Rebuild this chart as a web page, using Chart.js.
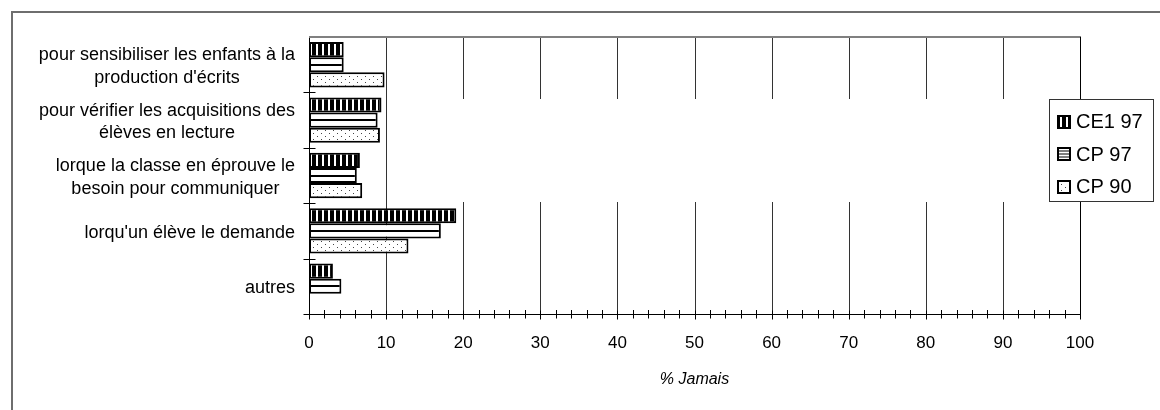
<!DOCTYPE html>
<html>
<head>
<meta charset="utf-8">
<script src="https://cdn.jsdelivr.net/npm/chart.js@4"></script>
<style>
  html, body { margin: 0; padding: 0; background: #fff; }
  canvas { display: block; }
</style>
</head>
<body>
<canvas id="chart" width="1160" height="410"></canvas>
<script>
// Categories (multi-line labels), top to bottom
const categories = [
  ['pour sensibiliser les enfants à la', "production d'écrits"],
  ['pour vérifier les acquisitions des', 'élèves en lecture'],
  ['lorque la classe en éprouve le', 'besoin pour communiquer'],
  ["lorqu'un élève le demande"],
  ['autres']
];

// Series names and values (% Jamais)
const seriesNames = ['CE1 97', 'CP 97', 'CP 90'];
const ce1_97 = [4.5, 9.4, 6.6, 19.1, 3.1];
const cp_97  = [4.5, 8.9, 6.2, 17.1, 4.2];
const cp_90  = [9.8, 9.2, 6.9, 12.9, null];

// Value axis ticks
const xTickValues = [0, 10, 20, 30, 40, 50, 60, 70, 80, 90, 100];
const xMinorStep = 2;
const xTitle = '% Jamais';

const FONT = '"Liberation Sans", Arial, Helvetica, sans-serif';
const canvas = document.getElementById('chart');
const ctx = canvas.getContext('2d');

// ---- fill patterns ----
function makeCanvas(w, h) {
  const c = document.createElement('canvas');
  c.width = w; c.height = h;
  return c;
}
function verticalStripes() {
  const c = makeCanvas(6, 6), g = c.getContext('2d');
  g.fillStyle = '#fff'; g.fillRect(0, 0, 6, 6);
  g.fillStyle = '#000'; g.fillRect(0, 0, 4, 6);
  return ctx.createPattern(c, 'repeat');
}
function horizontalStripes() {
  const c = makeCanvas(8, 7), g = c.getContext('2d');
  g.fillStyle = '#fff'; g.fillRect(0, 0, 8, 7);
  g.fillStyle = '#000'; g.fillRect(0, 2, 8, 2);
  return ctx.createPattern(c, 'repeat');
}
function dots() {
  const c = makeCanvas(8, 6), g = c.getContext('2d');
  g.fillStyle = '#fff'; g.fillRect(0, 0, 8, 6);
  g.fillStyle = '#444';
  g.fillRect(1, 1, 1, 1);
  g.fillRect(5, 4, 1, 1);
  return ctx.createPattern(c, 'repeat');
}
const vPattern = verticalStripes();
const dPattern = dots();

// horizontal stripes are aligned on each bar's centre
function hStripeFill(c) {
  const p = horizontalStripes();
  const ys = c.chart.scales && c.chart.scales.y;
  if (ys && c.dataIndex !== undefined && p.setTransform) {
    const yc = Math.round(ys.getPixelForValue(c.dataIndex));
    p.setTransform(new DOMMatrix().translate(0, yc - 3));
  }
  return p;
}

// ---- plugins ----
const frame = {
  id: 'frame',
  beforeDraw(chart) {
    const g = chart.ctx;
    g.save();
    g.strokeStyle = '#6e6e6e';
    g.lineWidth = 2;
    g.beginPath();
    g.moveTo(12, 410); g.lineTo(12, 12); g.lineTo(1160, 12);
    g.stroke();
    g.restore();
  }
};

const gridAndTicks = {
  id: 'gridAndTicks',
  beforeDatasetsDraw(chart) {
    const g = chart.ctx, xs = chart.scales.x;
    const {top, bottom, left, right} = chart.chartArea;
    const gapTop = 99, gapBottom = 202;
    g.save();
    // vertical gridlines
    g.strokeStyle = '#333';
    g.lineWidth = 1;
    xTickValues.forEach(v => {
      if (v === xTickValues[0] || v === xTickValues[xTickValues.length - 1]) return;
      const x = Math.round(xs.getPixelForValue(v)) + 0.5;
      g.beginPath();
      if (v === xTickValues[1]) {
        g.moveTo(x, top); g.lineTo(x, bottom);
      } else {
        g.moveTo(x, top); g.lineTo(x, gapTop);
        g.moveTo(x, gapBottom); g.lineTo(x, bottom);
      }
      g.stroke();
    });
    // plot frame: top and right
    g.strokeStyle = '#808080';
    g.lineWidth = 2;
    g.beginPath(); g.moveTo(left, top); g.lineTo(right + 1, top); g.stroke();
    g.strokeStyle = '#000';
    g.lineWidth = 1;
    const xr = Math.round(right) + 0.5;
    g.beginPath(); g.moveTo(xr, top); g.lineTo(xr, bottom); g.stroke();
    g.restore();
  },
  afterDraw(chart) {
    const g = chart.ctx, xs = chart.scales.x, ys = chart.scales.y;
    const {bottom, left} = chart.chartArea;
    g.save();
    g.strokeStyle = '#000';
    g.lineWidth = 1;
    const yb = Math.round(bottom) + 0.5;
    // x-axis tick marks: major below the axis, minor across it
    for (let v = xTickValues[0]; v <= xTickValues[xTickValues.length - 1]; v += xMinorStep) {
      const x = Math.round(xs.getPixelForValue(v)) + 0.5;
      const major = xTickValues.includes(v);
      g.beginPath();
      if (major) { g.moveTo(x, yb - 4); g.lineTo(x, yb + 5); }
      else { g.moveTo(x, yb - 4.5); g.lineTo(x, yb + 4); }
      g.stroke();
    }
    // category boundary ticks across the y axis
    const xl = Math.round(left) + 0.5;
    for (let i = 0; i < categories.length; i++) {
      const yPix = i < categories.length - 1
        ? (ys.getPixelForValue(i) + ys.getPixelForValue(i + 1)) / 2
        : bottom;
      const y = Math.round(yPix) + 0.5;
      g.beginPath(); g.moveTo(xl - 6, y); g.lineTo(xl + 6, y); g.stroke();
    }
    g.restore();
  }
};

const categoryLabels = {
  id: 'categoryLabels',
  afterDraw(chart) {
    const g = chart.ctx, ys = chart.scales.y;
    g.save();
    g.font = '18px ' + FONT;
    g.fillStyle = '#000';
    g.textAlign = 'center';
    g.textBaseline = 'middle';
    const rightEdge = chart.chartArea.left - 14;
    const lh = 22.5;
    categories.forEach((lines, i) => {
      const yc = ys.getPixelForValue(i) + 2;
      const w = Math.max(...lines.map(l => g.measureText(l).width));
      const cx = rightEdge - w / 2;
      lines.forEach((l, j) => g.fillText(l, cx, yc + (j - (lines.length - 1) / 2) * lh));
    });
    g.restore();
  }
};

const boxLegend = {
  id: 'boxLegend',
  afterDraw(chart) {
    const g = chart.ctx;
    const bx = 1049.5, by = 99.5, bw = 104, bh = 102;
    g.save();
    g.fillStyle = '#fff';
    g.fillRect(bx, by, bw, bh);
    g.strokeStyle = '#333';
    g.lineWidth = 1;
    g.strokeRect(bx, by, bw, bh);
    g.font = '20px ' + FONT;
    g.textBaseline = 'middle';
    g.textAlign = 'left';
    const rows = [121.5, 154.2, 186.9];
    chart.data.datasets.forEach((ds, i) => {
      const yc = rows[i];
      const ix = 1057, iy = Math.round(yc - 7), s = 14;
      if (i === 0) {
        g.fillStyle = vPattern;
        g.fillRect(ix, iy, s, s);
      } else if (i === 1) {
        g.fillStyle = '#fff';
        g.fillRect(ix, iy, s, s);
        g.fillStyle = '#000';
        [4, 7, 10].forEach(d => g.fillRect(ix, iy + d - 0.5, s, 1));
      } else {
        g.fillStyle = dPattern;
        g.fillRect(ix, iy, s, s);
      }
      g.strokeStyle = '#000';
      g.lineWidth = 2;
      g.strokeRect(ix + 1, iy + 1, s - 2, s - 2);
      g.fillStyle = '#000';
      g.fillText(ds.label, 1076, yc + 1);
    });
    g.restore();
  }
};

const barCommon = {
  borderColor: '#000',
  borderWidth: 2,
  borderSkipped: false,
  categoryPercentage: 0.82,
  barPercentage: 1.0
};

new Chart(canvas, {
  type: 'bar',
  data: {
    labels: categories,
    datasets: [
      Object.assign({label: seriesNames[0], data: ce1_97, backgroundColor: vPattern}, barCommon),
      Object.assign({label: seriesNames[1], data: cp_97, backgroundColor: hStripeFill}, barCommon),
      Object.assign({label: seriesNames[2], data: cp_90, backgroundColor: dPattern}, barCommon)
    ]
  },
  options: {
    indexAxis: 'y',
    responsive: false,
    animation: false,
    devicePixelRatio: 1,
    layout: { padding: { left: 0, right: 80, top: 37, bottom: 0 } },
    plugins: {
      legend: { display: false },
      tooltip: { enabled: false }
    },
    scales: {
      y: {
        type: 'category',
        offset: true,
        grid: { display: false, drawTicks: false },
        border: { display: true, color: '#000', width: 1 },
        ticks: { display: false },
        afterFit: s => { s.width = 309; }
      },
      x: {
        type: 'linear',
        min: xTickValues[0],
        max: xTickValues[xTickValues.length - 1],
        afterBuildTicks: s => { s.ticks = xTickValues.map(v => ({value: v})); },
        grid: { display: false, drawTicks: false },
        border: { display: true, color: '#000', width: 1 },
        ticks: {
          color: '#000',
          font: { family: FONT, size: 17 },
          padding: 19,
          maxRotation: 0,
          autoSkip: false
        },
        title: {
          display: true,
          text: xTitle,
          color: '#000',
          font: { family: FONT, size: 16, style: 'italic' },
          padding: { top: 0, bottom: 21 }
        },
        afterFit: s => { s.height = 96; }
      }
    }
  },
  plugins: [frame, gridAndTicks, categoryLabels, boxLegend]
});
</script>
</body>
</html>
